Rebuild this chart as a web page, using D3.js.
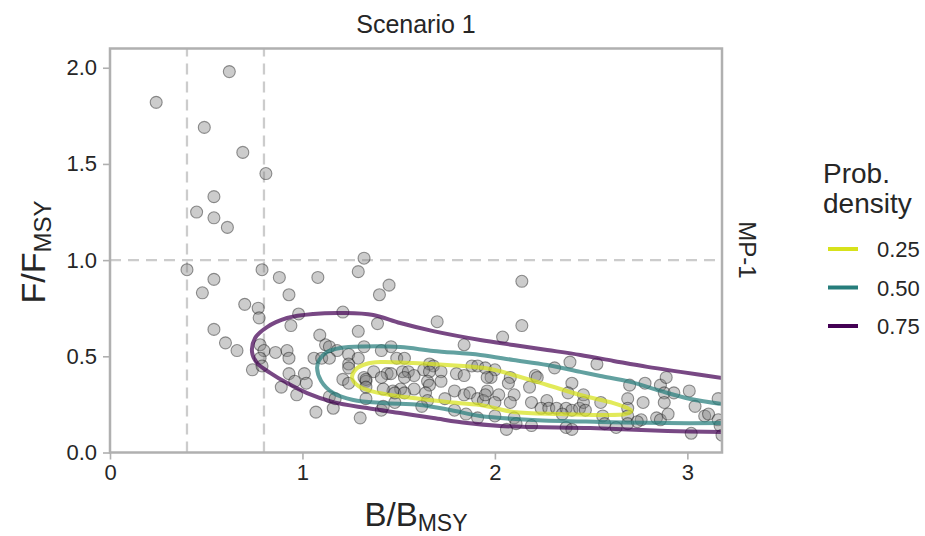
<!DOCTYPE html>
<html>
<head>
<meta charset="utf-8">
<script src="https://cdn.jsdelivr.net/npm/d3@7"></script>
<style>
  body { margin: 0; background: #fff; }
  text { font-family: "Liberation Sans", Arial, Helvetica, sans-serif; fill: #262626; }
</style>
</head>
<body>
<svg id="chart" width="925" height="536"></svg>
<script>
// Axis setup
const xDomain = [0, 3.18];
const yDomain = [0, 2.1];
const xTicks = [0, 1, 2, 3];
const yTicks = [0, 0.5, 1.0, 1.5, 2.0];

// Reference points (B/BMSY = 0.4, 0.8; F/FMSY = 1)
const bRefs = [0.4, 0.8];
const fRefs = [1.0];

// Simulated terminal-year states: [B/BMSY, F/FMSY]
const states = [
  [0.62,1.98],[0.24,1.82],[0.49,1.69],[0.69,1.56],[0.81,1.45],[0.54,1.33],[0.45,1.25],[0.54,1.22],[0.61,1.17],
  [0.40,0.95],[0.79,0.95],[0.54,0.90],[0.48,0.83],[0.88,0.91],[0.93,0.82],[0.70,0.77],[0.77,0.75],[0.775,0.70],
  [0.54,0.64],[0.60,0.57],[0.66,0.53],[0.78,0.56],[0.80,0.53],[0.86,0.52],[0.92,0.53],[0.93,0.49],[0.78,0.49],
  [0.74,0.43],[0.79,0.45],[0.89,0.34],
  [0.98,0.72],[0.94,0.66],[1.08,0.91],[1.32,1.01],[1.29,0.94],[1.21,0.73],[1.29,0.63],[1.39,0.67],[1.09,0.61],
  [1.12,0.56],[1.14,0.55],[1.18,0.53],[1.06,0.49],[1.10,0.49],[1.14,0.49],[1.24,0.51],[1.29,0.49],[1.32,0.55],
  [1.24,0.46],[1.24,0.44],[1.21,0.38],[1.24,0.36],[0.93,0.41],[1.01,0.41],[0.96,0.37],[1.02,0.36],[0.97,0.30],
  [1.14,0.29],[1.17,0.28],[1.16,0.23],[1.07,0.21],[1.33,0.28],[1.30,0.18],[1.32,0.39],[1.33,0.37],[1.37,0.42],
  [1.33,0.38],[1.33,0.34],[1.41,0.53],[1.45,0.87],[1.40,0.82],[1.41,0.22],[1.48,0.26],[1.44,0.41],
  [1.70,0.68],[1.84,0.56],[1.46,0.55],[1.49,0.49],[1.53,0.49],[1.66,0.46],[1.68,0.45],[1.88,0.45],[1.91,0.45],
  [1.46,0.41],[1.41,0.39],[1.52,0.42],[1.55,0.42],[1.58,0.40],[1.53,0.39],[1.63,0.43],[1.66,0.42],[1.72,0.42],
  [1.80,0.41],[1.84,0.40],[1.65,0.37],[1.66,0.35],[1.72,0.37],[1.79,0.32],[1.58,0.33],[1.51,0.33],[1.47,0.32],
  [1.42,0.33],[1.48,0.31],[1.53,0.31],[1.64,0.31],[1.65,0.27],[1.74,0.28],[1.84,0.30],[1.87,0.31],[1.91,0.28],
  [1.62,0.24],[1.79,0.22],[1.85,0.20],[1.91,0.18],[1.42,0.24],
  [2.14,0.89],[2.14,0.66],[2.04,0.60],[2.39,0.47],[2.31,0.44],[1.95,0.44],[2.00,0.43],[1.98,0.39],[2.08,0.39],
  [2.07,0.36],[2.21,0.40],[2.22,0.39],[2.18,0.34],[2.40,0.36],[2.38,0.31],[2.46,0.30],[1.96,0.32],[2.02,0.30],
  [2.10,0.30],[1.94,0.27],[2.00,0.26],[2.08,0.26],[2.19,0.26],[2.27,0.27],[2.24,0.23],[2.28,0.23],[2.32,0.23],
  [2.37,0.23],[2.40,0.22],[2.44,0.23],[2.35,0.20],[2.00,0.19],[2.10,0.18],[2.19,0.14],[2.06,0.12],[2.37,0.13],
  [2.40,0.12],[1.96,0.39],[1.95,0.30],[2.11,0.15],
  [2.53,0.46],[2.70,0.35],[2.78,0.36],[2.86,0.35],[2.89,0.39],[2.88,0.31],[2.93,0.31],[3.01,0.32],[3.16,0.28],
  [2.69,0.28],[2.77,0.26],[2.88,0.26],[3.04,0.24],[2.69,0.23],[2.46,0.26],[2.55,0.26],[2.47,0.22],[2.56,0.19],
  [2.69,0.19],[2.76,0.17],[2.84,0.18],[2.86,0.17],[2.90,0.20],[3.09,0.19],[3.11,0.20],[3.16,0.17],[3.17,0.14],
  [2.57,0.15],[2.63,0.13],[2.69,0.15],[2.74,0.16],[3.02,0.10],[3.18,0.09]
];

// Density contour levels and their traced outlines
const levels = ["0.25", "0.50", "0.75"];
const levelColors = ["#d7e21b", "#267d7b", "#440154"];

const contour25 = [
  [1.258,0.387],[1.279,0.434],[1.331,0.460],[1.404,0.470],[1.576,0.465],[1.752,0.455],[1.976,0.434],
  [2.096,0.403],[2.272,0.351],[2.444,0.299],[2.616,0.257],[2.688,0.231],[2.709,0.215],[2.678,0.200],
  [2.548,0.195],[2.340,0.200],[2.096,0.211],[1.924,0.247],[1.752,0.262],[1.576,0.283],[1.456,0.299],
  [1.352,0.320],[1.290,0.346]
];
const contour50 = [
  [3.183,0.252],[3.016,0.278],[2.860,0.320],[2.704,0.367],[2.548,0.398],[2.444,0.419],[2.272,0.455],
  [2.096,0.481],[1.924,0.507],[1.680,0.528],[1.508,0.548],[1.316,0.551],[1.196,0.543],[1.128,0.522],
  [1.087,0.481],[1.076,0.439],[1.097,0.372],[1.160,0.309],[1.264,0.273],[1.420,0.257],[1.612,0.247],
  [1.768,0.221],[1.924,0.190],[2.200,0.169],[2.548,0.159],[2.897,0.153],[3.183,0.153]
];
const contour75 = [
  [3.183,0.387],[2.964,0.419],[2.792,0.445],[2.616,0.476],[2.444,0.507],[2.272,0.533],[2.096,0.559],
  [1.924,0.585],[1.680,0.631],[1.508,0.673],[1.368,0.715],[1.212,0.725],[1.056,0.720],[0.920,0.699],
  [0.816,0.652],[0.754,0.595],[0.738,0.522],[0.764,0.465],[0.832,0.414],[0.920,0.361],[1.024,0.309],
  [1.160,0.262],[1.336,0.231],[1.508,0.205],[1.680,0.179],[1.856,0.153],[2.028,0.138],[2.200,0.132],
  [2.496,0.127],[2.897,0.112],[3.183,0.106]
];
const contours = [
  { level: levels[0], color: levelColors[0], pts: contour25, closed: true },
  { level: levels[1], color: levelColors[1], pts: contour50, closed: false },
  { level: levels[2], color: levelColors[2], pts: contour75, closed: false }
];

const svg = d3.select("#chart");
const plotLeft = 110, plotRight = 722, plotTop = 48.5, plotBottom = 452.5;

const x = d3.scaleLinear().domain(xDomain).range([plotLeft, plotRight]);
const y = d3.scaleLinear().domain(yDomain).range([plotBottom, plotTop]);

const axisGrey = "#b0b0b0";

svg.append("defs").append("clipPath").attr("id", "plot-clip")
  .append("rect").attr("x", plotLeft).attr("y", plotTop)
  .attr("width", plotRight - plotLeft).attr("height", plotBottom - plotTop);

const plot = svg.append("g").attr("clip-path", "url(#plot-clip)");

// Reference lines
plot.selectAll(".bref").data(bRefs).join("line")
  .attr("x1", d => x(d)).attr("x2", d => x(d))
  .attr("y1", y(yDomain[0])).attr("y2", y(yDomain[1]))
  .attr("stroke", "#cccccc").attr("stroke-width", 2.3).attr("stroke-dasharray", "11,7");
plot.selectAll(".fref").data(fRefs).join("line")
  .attr("x1", x(xDomain[0])).attr("x2", x(xDomain[1]))
  .attr("y1", d => y(d)).attr("y2", d => y(d))
  .attr("stroke", "#cccccc").attr("stroke-width", 2.3).attr("stroke-dasharray", "11,7");

// Scatter
plot.selectAll("circle").data(states).join("circle")
  .attr("cx", d => x(d[0])).attr("cy", d => y(d[1])).attr("r", 6)
  .attr("fill", "#808080").attr("fill-opacity", 0.4)
  .attr("stroke", "#000").attr("stroke-opacity", 0.4).attr("stroke-width", 1.1);

// Density contours
const lineOpen = d3.line().x(d => x(d[0])).y(d => y(d[1])).curve(d3.curveCatmullRom.alpha(0.5));
const lineClosed = d3.line().x(d => x(d[0])).y(d => y(d[1])).curve(d3.curveCatmullRomClosed.alpha(0.5));
plot.selectAll(".contour").data(contours).join("path")
  .attr("d", d => (d.closed ? lineClosed : lineOpen)(d.pts))
  .attr("fill", "none").attr("stroke", d => d.color)
  .attr("stroke-width", 4).attr("stroke-opacity", 0.72)
  .attr("stroke-linejoin", "round");

// Axes
const gx = svg.append("g").attr("transform", `translate(0,${plotBottom})`)
  .call(d3.axisBottom(x).tickValues(xTicks).tickFormat(d3.format("d")).tickSize(7).tickPadding(5));
const gy = svg.append("g").attr("transform", `translate(${plotLeft},0)`)
  .call(d3.axisLeft(y).tickValues(yTicks).tickFormat(d3.format(".1f")).tickSize(7).tickPadding(6));
[gx, gy].forEach(g => {
  g.select(".domain").remove();
  g.selectAll(".tick line").attr("stroke", axisGrey).attr("stroke-width", 1.6);
  g.selectAll(".tick text").attr("font-size", 22).style("fill", "#262626")
    .attr("font-family", "Liberation Sans, Arial, sans-serif");
});

// Frame
svg.append("rect").attr("x", plotLeft).attr("y", plotTop)
  .attr("width", plotRight - plotLeft).attr("height", plotBottom - plotTop)
  .attr("fill", "none").attr("stroke", axisGrey).attr("stroke-width", 2.5);

// Titles
svg.append("text").attr("x", (plotLeft + plotRight) / 2).attr("y", 33)
  .attr("text-anchor", "middle").attr("font-size", 25).text("Scenario 1");

const xl = svg.append("text").attr("x", (plotLeft + plotRight) / 2).attr("y", 526)
  .attr("text-anchor", "middle").attr("font-size", 33);
xl.append("tspan").text("B/B");
xl.append("tspan").attr("font-size", 23).attr("dy", 5).text("MSY");

const yl = svg.append("text").attr("transform", "translate(45,252) rotate(-90)")
  .attr("text-anchor", "middle").attr("font-size", 34);
yl.append("tspan").text("F/F");
yl.append("tspan").attr("font-size", 24).attr("dy", 6).text("MSY");

svg.append("text").attr("transform", "translate(739,250) rotate(90)")
  .attr("text-anchor", "middle").attr("font-size", 24).text("MP-1");

// Legend
const lg = svg.append("g");
const lt = lg.append("text").attr("x", 823).attr("y", 183).attr("font-size", 28);
lt.append("tspan").attr("x", 823).text("Prob.");
lt.append("tspan").attr("x", 823).attr("dy", 30).text("density");
const items = lg.selectAll(".item").data(levels).join("g")
  .attr("transform", (d, i) => `translate(0,${249 + i * 38.5})`);
items.append("line").attr("x1", 828).attr("x2", 858).attr("y1", 0).attr("y2", 0)
  .attr("stroke", (d, i) => levelColors[i]).attr("stroke-width", 4);
items.append("text").attr("x", 877).attr("y", 8).attr("font-size", 22).text(d => d);
</script>
</body>
</html>
